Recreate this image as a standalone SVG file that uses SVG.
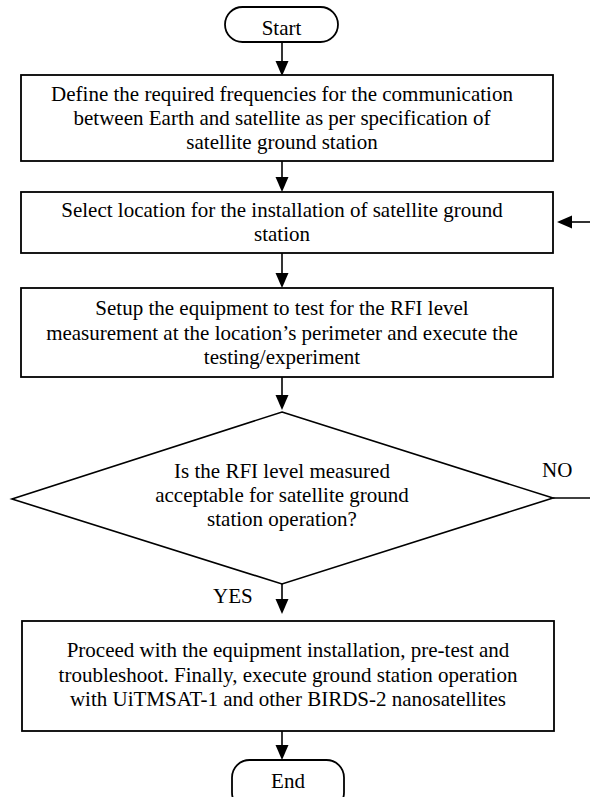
<svg xmlns="http://www.w3.org/2000/svg" width="590" height="797" viewBox="0 0 590 797">
<defs>
<style>
.box{fill:#fff;stroke:#000;stroke-width:1.8}
.ln{fill:none;stroke:#000;stroke-width:1.6}
.ah{fill:#000;stroke:none}
text{font-family:"Liberation Serif","Times New Roman",serif;font-size:21px;fill:#000}
.c{text-anchor:middle}
</style>
</defs>
<rect width="590" height="797" fill="#fff"/>
<g id="connectors">
<line class="ln" x1="282" y1="42" x2="282" y2="62"/>
<polygon class="ah" points="275.5,61 288.5,61 282,76"/>
<line class="ln" x1="282" y1="161" x2="282" y2="178"/>
<polygon class="ah" points="275.5,177 288.5,177 282,192"/>
<line class="ln" x1="282" y1="253" x2="282" y2="274"/>
<polygon class="ah" points="275.5,273 288.5,273 282,288"/>
<line class="ln" x1="282" y1="377" x2="282" y2="396"/>
<polygon class="ah" points="275.5,395 288.5,395 282,410"/>
<line class="ln" x1="282" y1="584" x2="282" y2="600"/>
<polygon class="ah" points="275.5,599 288.5,599 282,614"/>
<line class="ln" x1="282" y1="731" x2="282" y2="746"/>
<polygon class="ah" points="275.5,745 288.5,745 282,760"/>
<line class="ln" x1="553" y1="498" x2="590" y2="498"/>
<line class="ln" x1="571" y1="222" x2="590" y2="222"/>
<polygon class="ah" points="572,215.5 572,228.5 557,222"/>
<text x="542" y="477">NO</text>
<text x="213" y="603">YES</text>
</g>
<g id="start">
<rect class="box" x="225" y="7" width="113" height="35" rx="17.5" ry="17.5"/>
<text class="c" x="281.5" y="35">Start</text>
</g>
<g id="define">
<rect class="box" x="21" y="75" width="532" height="86"/>
<text class="c" x="282" y="101">Define the required frequencies for the communication</text>
<text class="c" x="282" y="125">between Earth and satellite as per specification of</text>
<text class="c" x="282" y="149">satellite ground station</text>
</g>
<g id="select">
<rect class="box" x="21" y="192" width="532" height="61"/>
<text class="c" x="282" y="217">Select location for the installation of satellite ground</text>
<text class="c" x="282" y="241">station</text>
</g>
<g id="setup">
<rect class="box" x="21" y="288" width="532" height="89"/>
<text class="c" x="282" y="315">Setup the equipment to test for the RFI level</text>
<text class="c" x="282" y="340">measurement at the location’s perimeter and execute the</text>
<text class="c" x="282" y="364">testing/experiment</text>
</g>
<g id="decision">
<polygon class="ln" points="282,412 553,498 282,584 12,499" style="stroke-width:1.6"/>
<text class="c" x="282" y="478">Is the RFI level measured</text>
<text class="c" x="282" y="502">acceptable for satellite ground</text>
<text class="c" x="282" y="526">station operation?</text>
</g>
<g id="proceed">
<rect class="box" x="22" y="621" width="532" height="110"/>
<text class="c" x="288" y="657">Proceed with the equipment installation, pre-test and</text>
<text class="c" x="288" y="682">troubleshoot. Finally, execute ground station operation</text>
<text class="c" x="288" y="706">with UiTMSAT-1 and other BIRDS-2 nanosatellites</text>
</g>
<g id="end">
<rect class="box" x="232" y="760" width="112" height="50" rx="17.5" ry="17.5"/>
<text class="c" x="288" y="788">End</text>
</g>
</svg>
